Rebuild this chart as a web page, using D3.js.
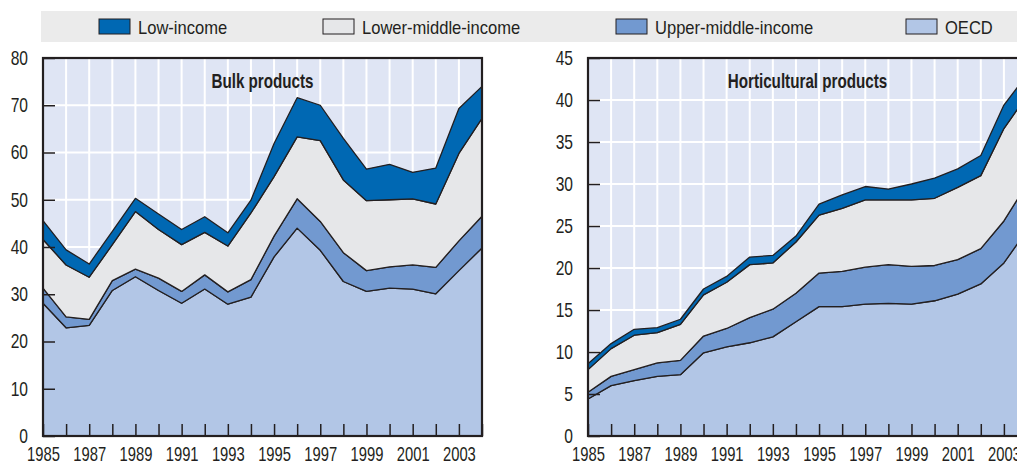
<!DOCTYPE html>
<html>
<head>
<meta charset="utf-8">
<script src="https://cdn.jsdelivr.net/npm/d3@7"></script>
<style>
  body { margin: 0; background: #fff; }
  svg { display: block; font-family: "Liberation Sans", Arial, sans-serif; }
  .tick text { font-size: 20px; fill: #231f20; }
</style>
</head>
<body>
<div id="vis"></div>
<script>
// years on the x axis
var years = d3.range(1985, 2005);
var yearLabels = [1985, 1987, 1989, 1991, 1993, 1995, 1997, 1999, 2001, 2003];

// series, stacked from bottom (OECD) to top (Low-income)
var seriesNames = ["OECD", "Upper-middle-income", "Lower-middle-income", "Low-income"];
var legendOrder = ["Low-income", "Lower-middle-income", "Upper-middle-income", "OECD"];

// Bulk products
var bulkOECD  = [28.1, 22.9, 23.4, 30.8, 33.7, 30.8, 28.1, 31.1, 27.9, 29.4, 37.9, 44.0, 39.3, 32.7, 30.6, 31.3, 31.1, 30.1, 35.0, 39.8];
var bulkUpper = [3.2, 2.3, 1.3, 2.1, 1.6, 2.6, 2.5, 3.0, 2.6, 3.7, 4.4, 6.2, 6.1, 6.1, 4.4, 4.5, 5.1, 5.6, 6.3, 6.7];
var bulkLower = [10.3, 11.0, 8.9, 7.6, 12.2, 10.3, 9.9, 9.0, 9.7, 14.1, 12.6, 13.1, 17.1, 15.4, 14.8, 14.2, 14.0, 13.4, 18.5, 20.7];
var bulkLow   = [4.0, 3.2, 2.8, 2.8, 2.8, 3.3, 3.2, 3.3, 2.8, 2.7, 7.0, 8.3, 7.5, 8.8, 6.7, 7.5, 5.6, 7.6, 9.5, 6.8];
var bulkTicks = [0, 10, 20, 30, 40, 50, 60, 70, 80];

// Horticultural products
var hortOECD  = [4.4, 6.0, 6.6, 7.1, 7.3, 9.9, 10.6, 11.1, 11.8, 13.6, 15.4, 15.4, 15.7, 15.8, 15.7, 16.1, 16.9, 18.1, 20.6, 24.5];
var hortUpper = [0.8, 1.1, 1.3, 1.6, 1.7, 2.0, 2.2, 3.0, 3.3, 3.4, 4.0, 4.2, 4.4, 4.6, 4.5, 4.2, 4.1, 4.2, 5.0, 5.5];
var hortLower = [2.7, 3.3, 4.1, 3.6, 4.3, 4.9, 5.5, 6.3, 5.5, 6.1, 6.9, 7.5, 8.0, 7.7, 7.9, 8.0, 8.6, 8.7, 11.0, 10.5];
var hortLow   = [0.7, 0.6, 0.7, 0.6, 0.6, 0.7, 0.7, 0.9, 0.9, 0.7, 1.3, 1.6, 1.6, 1.3, 1.9, 2.4, 2.2, 2.4, 2.8, 2.5];
var hortTicks = [0, 5, 10, 15, 20, 25, 30, 35, 40, 45];

var colors = {
  "Low-income": "#0068b3",
  "Lower-middle-income": "#e6e7e9",
  "Upper-middle-income": "#7299d0",
  "OECD": "#b2c6e6"
};
var ink = "#231f20";

var W = 1017, H = 464;
var svg = d3.select("#vis").append("svg")
  .attr("width", W)
  .attr("height", H);

// squeeze text horizontally to get the condensed look of the original
function narrow(sel, sx, origin) {
  sel.style("transform-box", "fill-box")
    .style("transform-origin", origin)
    .style("transform", "scaleX(" + sx + ")");
}

// legend band
svg.append("rect")
  .attr("x", 41).attr("y", 11)
  .attr("width", W - 41).attr("height", 31)
  .attr("fill", "#ebebeb");

var legendX = [99, 323, 616, 906];
var leg = svg.selectAll(".leg").data(legendOrder).enter().append("g")
  .attr("class", "leg")
  .attr("transform", function(d, i) { return "translate(" + legendX[i] + ",19)"; });
leg.append("rect")
  .attr("width", 31).attr("height", 15)
  .attr("fill", function(d) { return colors[d]; })
  .attr("stroke", ink).attr("stroke-width", 1);
leg.append("text")
  .attr("x", 39).attr("y", 15)
  .attr("font-size", 18.6)
  .attr("fill", ink)
  .text(function(d) { return d; })
  .call(narrow, 0.89, "left center");

function buildRows(a, b, c, d) {
  return years.map(function(y, i) {
    return { year: y, "OECD": a[i], "Upper-middle-income": b[i], "Lower-middle-income": c[i], "Low-income": d[i] };
  });
}

function panel(left, rows, ticks, title) {
  var top = 58, bottom = 436, plotW = 439;
  var x = d3.scaleLinear().domain([1985, 2004]).range([left, left + plotW]);
  var y = d3.scaleLinear().domain([0, d3.max(ticks)]).range([bottom, top]);
  var g = svg.append("g");

  g.append("rect")
    .attr("x", left).attr("y", top)
    .attr("width", plotW).attr("height", bottom - top)
    .attr("fill", "#dfe5f4");

  // grid
  g.selectAll(".vg").data(years.slice(1, -1)).enter().append("line")
    .attr("x1", function(d) { return x(d); }).attr("x2", function(d) { return x(d); })
    .attr("y1", top).attr("y2", bottom)
    .attr("stroke", "#fff").attr("stroke-width", 2);
  g.selectAll(".hg").data(ticks.slice(1, -1)).enter().append("line")
    .attr("x1", left).attr("x2", left + plotW)
    .attr("y1", function(d) { return y(d); }).attr("y2", function(d) { return y(d); })
    .attr("stroke", "#fff").attr("stroke-width", 2);

  var stack = d3.stack().keys(seriesNames);
  var area = d3.area()
    .x(function(d) { return x(d.data.year); })
    .y0(function(d) { return y(d[0]); })
    .y1(function(d) { return y(d[1]); });

  g.selectAll(".layer").data(stack(rows)).enter().append("path")
    .attr("d", area)
    .attr("fill", function(d) { return colors[d.key]; })
    .attr("stroke", ink).attr("stroke-width", 1.3)
    .attr("stroke-linejoin", "round");

  // frame
  g.append("rect")
    .attr("x", left).attr("y", top)
    .attr("width", plotW).attr("height", bottom - top)
    .attr("fill", "none").attr("stroke", ink).attr("stroke-width", 2.2);

  // axes
  var xAxis = d3.axisBottom(x).tickValues(years).tickSize(-12).tickPadding(11)
    .tickFormat(function(d) { return yearLabels.indexOf(d) >= 0 ? d : ""; });
  g.append("g").attr("transform", "translate(0," + bottom + ")").call(xAxis)
    .call(function(s) {
      s.select(".domain").remove();
      s.selectAll(".tick line").attr("stroke", ink).attr("stroke-width", 1.5);
      s.selectAll(".tick text").call(narrow, 0.74, "center");
    });

  var yAxis = d3.axisLeft(y).tickValues(ticks).tickSize(-12).tickPadding(15);
  g.append("g").attr("transform", "translate(" + left + ",0)").call(yAxis)
    .call(function(s) {
      s.select(".domain").remove();
      s.selectAll(".tick line").attr("stroke", ink).attr("stroke-width", 1.5);
      s.selectAll(".tick text").call(narrow, 0.78, "right center");
    });

  g.append("text")
    .attr("x", left + plotW / 2).attr("y", 88)
    .attr("text-anchor", "middle")
    .attr("font-size", 19.5).attr("font-weight", "bold")
    .attr("fill", ink)
    .text(title)
    .call(narrow, 0.78, "center");
}

panel(43, buildRows(bulkOECD, bulkUpper, bulkLower, bulkLow), bulkTicks, "Bulk products");
panel(588, buildRows(hortOECD, hortUpper, hortLower, hortLow), hortTicks, "Horticultural products");
</script>
</body>
</html>
